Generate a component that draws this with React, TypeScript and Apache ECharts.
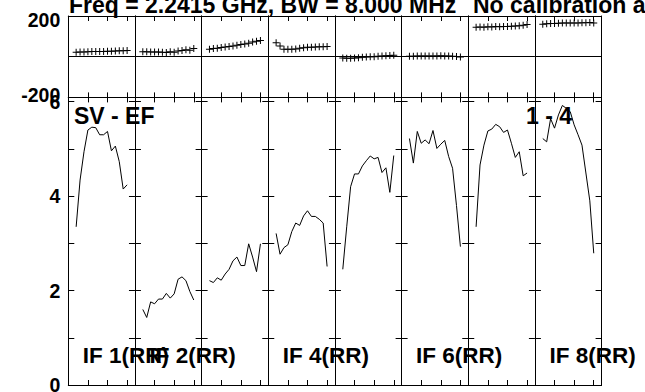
import React, { useEffect, useRef } from "react";
import * as echarts from "echarts";

// ---- data ----
const channels = [4, 6, 8, 10, 12, 14, 16, 18, 20, 22, 24, 26, 28, 30];
const ifLabels = ["IF 1(RR)", "IF 2(RR)", "", "IF 4(RR)", "", "IF 6(RR)", "", "IF 8(RR)"];

const phaseIF1 = [22, 23, 23, 24, 25, 25, 26, 26, 27, 27, 28, 29, 29, 30];
const phaseIF2 = [24, 24, 23, 23, 23, 22, 21, 24, 22, 28, 30, 34, 32, 40];
const phaseIF3 = [36, 40, 42, 45, 48, 50, 53, 56, 60, 63, 66, 72, 76, 80];
const phaseIF4 = [69, 53, 37, 36, 37, 38, 41, 44, 46, 47, 48, 49, 49, 50];
const phaseIF5 = [-6, -8, -8, -7, -5, -3, -2, 0, 0, 2, 3, 5, 6, 7];
const phaseIF6 = [2, 2, 3, 3, 3, 4, 4, 4, 5, 4, 4, 2, 1, -2];
const phaseIF7 = [145, 146, 145, 147, 146, 148, 147, 148, 149, 150, 151, 152, 155, 158];
const phaseIF8 = [160, 162, 163, 163, 164, 165, 165, 165, 166, 166, 167, 167, 168, 166];

const ampIF1 = [3.35, 4.34, 4.94, 5.4, 5.46, 5.45, 5.3, 5.3, 5.37, 4.96, 5.06, 4.73, 4.15, 4.24];
const ampIF2 = [1.6, 1.43, 1.76, 1.72, 1.82, 1.82, 1.94, 1.84, 1.93, 2.24, 2.29, 2.21, 1.98, 1.8];
const ampIF3 = [2.21, 2.17, 2.27, 2.22, 2.35, 2.45, 2.63, 2.71, 2.53, 2.53, 2.99, 2.71, 2.4, 2.99];
const ampIF4 = [3.21, 2.77, 2.91, 2.97, 3.25, 3.43, 3.38, 3.58, 3.69, 3.57, 3.57, 3.51, 3.43, 2.51];
const ampIF5 = [2.45, 3.35, 4.2, 4.47, 4.47, 4.64, 4.75, 4.85, 4.79, 4.82, 4.5, 4.6, 4.08, 4.86];
const ampIF6 = [5.22, 4.7, 5.37, 5.12, 5.19, 5.11, 5.39, 5.01, 5.1, 5.18, 4.84, 4.59, 3.8, 2.93];
const ampIF7 = [3.35, 4.66, 5.08, 5.38, 5.42, 5.52, 5.47, 5.35, 5.4, 5.12, 4.82, 4.94, 4.43, 4.49];
const ampIF8 = [5.22, 5.15, 5.64, 5.44, 5.72, 5.92, 5.86, 5.79, 5.51, 5.3, 5.08, 4.49, 3.9, 2.79];

const phaseSets = [phaseIF1, phaseIF2, phaseIF3, phaseIF4, phaseIF5, phaseIF6, phaseIF7, phaseIF8];
const ampSets = [ampIF1, ampIF2, ampIF3, ampIF4, ampIF5, ampIF6, ampIF7, ampIF8];

const phaseTickLabels = [200, -200];
const ampTickLabels = [0, 2, 4, 6];

const titleText = "Freq = 2.2415 GHz, BW = 8.000 MHz";
const noteText = "No calibration applied";
const sourceText = "SV - EF";
const baselineText = "1 - 4";

// ---- layout ----
const LEFT = 68.3;
const COLW = 66.66;
const TOP1 = 16;
const H1 = 81.4;
const TOP2 = 97.4;
const BOTTOM = 385;
const FONT = "'Liberation Sans', Arial, Helvetica, sans-serif";

export default function App() {
  const ref = useRef<HTMLDivElement>(null);
  useEffect(() => {
    if (!ref.current) return;
    const chart = echarts.init(ref.current, undefined, { renderer: "svg" });

    const grids: any[] = [];
    const xAxes: any[] = [];
    const yAxes: any[] = [];
    const series: any[] = [];
    const black = "#000";

    const xAxisBase = (g: number, pos: string) => ({
      gridIndex: g,
      type: "value",
      position: pos,
      min: 0,
      max: 34,
      interval: 10,
      axisLine: { show: true, onZero: false, lineStyle: { color: black, width: 1 } },
      axisTick: { show: true, inside: true, length: 5, lineStyle: { color: black } },
      axisLabel: { show: false },
      splitLine: { show: false },
    });

    for (let panel = 0; panel < 2; panel++) {
      for (let i = 0; i < 8; i++) {
        const g = grids.length;
        grids.push({
          left: LEFT + i * COLW,
          width: COLW,
          top: panel === 0 ? TOP1 : TOP2,
          height: panel === 0 ? H1 : BOTTOM - TOP2,
          outerBoundsMode: "none",
          containLabel: false,
        });
        xAxes.push(xAxisBase(g, "bottom"));
        xAxes.push(xAxisBase(g, "top"));
        const labelStyle = {
          show: i === 0,
          color: black,
          fontFamily: FONT,
          fontWeight: "bold",
          fontSize: 19.5,
          margin: 8,
        };
        if (panel === 0) {
          const yBase = (pos: string, withLabel: boolean) => ({
            gridIndex: g,
            type: "value",
            position: pos,
            min: -200,
            max: 200,
            interval: 200,
            axisLine: { show: true, onZero: false, lineStyle: { color: black, width: 1 } },
            axisTick: { show: false },
            axisLabel: {
              ...labelStyle,
              show: withLabel,
              formatter: (v: number) =>
                phaseTickLabels.includes(v) ? (v > 0 ? "{hi|" + v + "}" : "{lo|" + v + "}") : "",
              rich: {
                hi: { padding: [8, 0, 0, 0], fontFamily: FONT, fontWeight: "bold", fontSize: 19.5, color: black },
                lo: { padding: [0, 0, 4, 0], fontFamily: FONT, fontWeight: "bold", fontSize: 19.5, color: black },
              },
            },
            splitLine: { show: pos === "left", lineStyle: { color: black, width: 1 } },
          });
          yAxes.push(yBase("left", i === 0));
          yAxes.push(yBase("right", false));
          series.push({
            type: "scatter",
            xAxisIndex: 2 * g,
            yAxisIndex: 2 * g,
            symbol: "path://M6,0H8V14H6Z M0,6H14V8H0Z",
            symbolSize: 7,
            itemStyle: { color: black, opacity: 1 },
            data: channels.map((c, k) => [c, phaseSets[i][k]]),
            silent: true,
          });
        } else {
          const yBase = (pos: string, withLabel: boolean) => ({
            gridIndex: g,
            type: "value",
            position: pos,
            min: 0,
            max: 6 + (101.7 - TOP2) / ((BOTTOM - 101.7) / 6),
            interval: 1,
            axisLine: { show: true, onZero: false, lineStyle: { color: black, width: 1 } },
            axisTick: { show: true, inside: true, length: 6, lineStyle: { color: black } },
            axisLabel: {
              ...labelStyle,
              show: withLabel,
              formatter: (v: number) => (ampTickLabels.includes(v) ? String(v) : ""),
            },
            splitLine: { show: false },
          });
          yAxes.push(yBase("left", i === 0));
          yAxes.push(yBase("right", false));
          series.push({
            type: "line",
            xAxisIndex: 2 * g,
            yAxisIndex: 2 * g,
            showSymbol: false,
            symbol: "none",
            lineStyle: { color: black, width: 1 },
            data: channels.map((c, k) => [c, ampSets[i][k]]),
            silent: true,
          });
        }
      }
    }

    const textStyle = (text: string, size: number) => ({
      text,
      fill: black,
      fontFamily: FONT,
      fontWeight: "bold",
      fontSize: size,
      align: "left",
      verticalAlign: "middle",
    });

    const graphics: any[] = [
      { type: "text", x: 69, y: 4.5, style: textStyle(titleText, 23), silent: true },
      { type: "text", x: 473, y: 4.5, style: textStyle(noteText, 23), silent: true },
      { type: "text", x: 74, y: 115.7, style: textStyle(sourceText, 23), silent: true },
      { type: "text", x: 526, y: 115.7, style: textStyle(baselineText, 23), silent: true },
    ];
    ifLabels.forEach((t, i) => {
      if (!t) return;
      graphics.push({
        type: "text",
        x: LEFT + i * COLW + 14.5,
        y: 355.7,
        style: textStyle(t, 22.5),
        silent: true,
      });
    });

    chart.setOption({
      animation: false,
      backgroundColor: "#fff",
      grid: grids,
      xAxis: xAxes,
      yAxis: yAxes,
      series,
      graphic: graphics,
    });
    return () => chart.dispose();
  }, []);

  return (
    <div
      ref={ref}
      style={{ position: "fixed", left: 0, top: 0, width: 645, height: 392, background: "#fff" }}
    />
  );
}
